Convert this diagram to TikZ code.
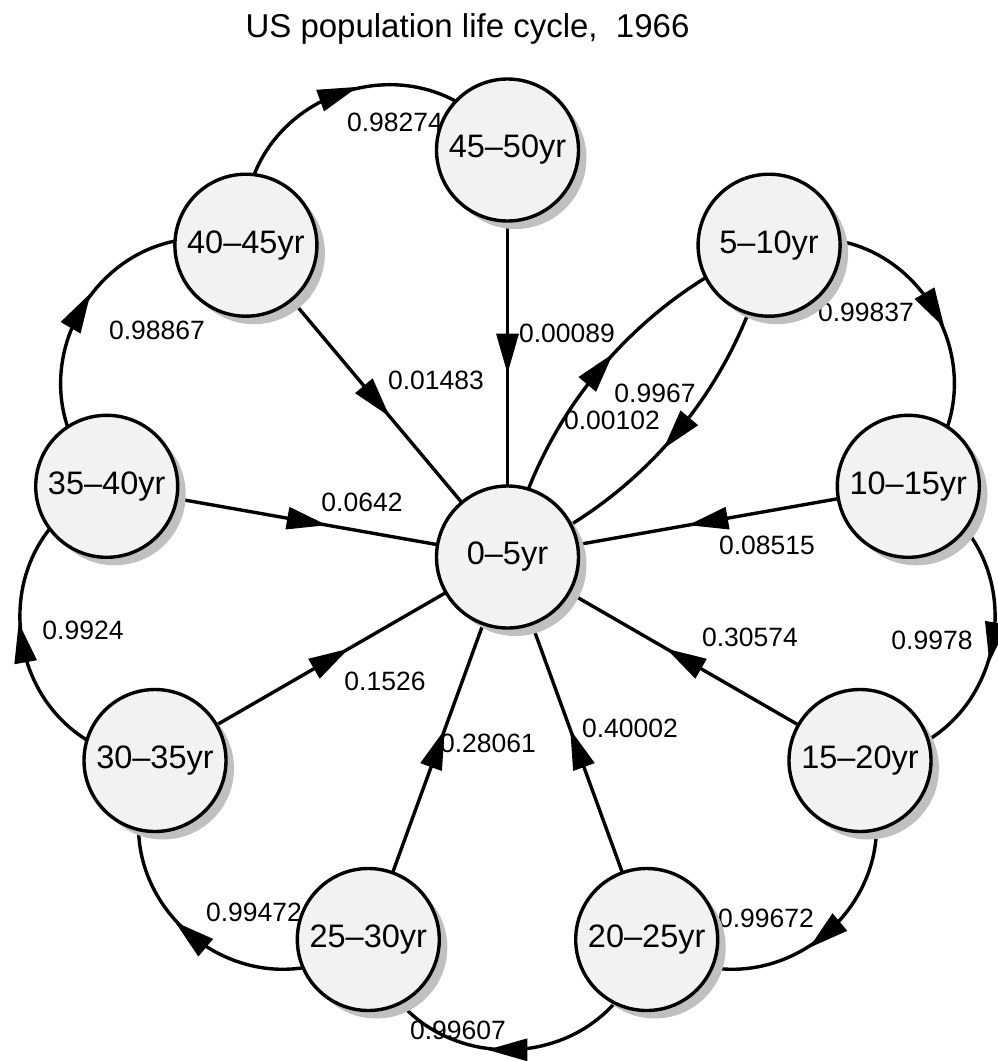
\documentclass[tikz,border=0pt]{standalone}
\usepackage{fontspec}
\setmainfont{Liberation Sans}
\usetikzlibrary{shadows,decorations.markings}
\pgfdeclarelayer{background}
\pgfsetlayers{background,main}
\definecolor{shadowgray}{RGB}{192,192,192}
\definecolor{nodefill}{RGB}{242,242,242}
\tikzset{
  agenode/.style={circle, draw=black, line width=3.4pt, fill=nodefill,
    minimum size=142pt, inner sep=0pt, font=\fontsize{32.5}{39}\selectfont,
    drop shadow={shadow xshift=8pt, shadow yshift=-8pt, fill=shadowgray, opacity=1}},
  flow/.style={line width=3.4pt, postaction={decorate},
    decoration={markings, mark=at position 0.5 with
      {\fill (-20pt,-11.5pt) -- (20pt,0pt) -- (-20pt,11.5pt) -- cycle;}}},
  cyc/.style={flow, bend left=77, looseness=1.39},
  pair/.style={flow, bend left=27.6, looseness=0.9},
  lbl/.style={font=\fontsize{26.5}{32}\selectfont, inner sep=0pt},
  ttl/.style={font=\fontsize{33}{40}\selectfont, inner sep=0pt, anchor=base}
}
\begin{document}
\begin{tikzpicture}[x=1pt,y=1pt]
\useasboundingbox (0,0) rectangle (998,-1061);
\node[ttl] (title) at (467.5,-37) {US population life cycle,~ 1966};

\node[agenode] (a0)  at (507.5,-557)   {0–5yr};
\node[agenode] (a45) at (507.5,-150)   {45–50yr};
\node[agenode] (a5)  at (769.1,-245.2) {5–10yr};
\node[agenode] (a10) at (908.3,-486.3) {10–15yr};
\node[agenode] (a15) at (860,-760.5)   {15–20yr};
\node[agenode] (a20) at (646.7,-939.5) {20–25yr};
\node[agenode] (a25) at (368.3,-939.5) {25–30yr};
\node[agenode] (a30) at (155,-760.5)   {30–35yr};
\node[agenode] (a35) at (106.7,-486.3) {35–40yr};
\node[agenode] (a40) at (245.9,-245.2) {40–45yr};

\begin{pgfonlayer}{background}
% spokes
\draw[flow] (a45.center) -- (a0.center);
\draw[flow] (a40.center) -- (a0.center);
\draw[flow] (a35.center) -- (a0.center);
\draw[flow] (a30.center) -- (a0.center);
\draw[flow] (a25.center) -- (a0.center);
\draw[flow] (a20.center) -- (a0.center);
\draw[flow] (a15.center) -- (a0.center);
\draw[flow] (a10.center) -- (a0.center);
\draw[pair] (a0.center) to (a5.center);
\draw[pair] (a5.center) to (a0.center);
% cycle
\draw[cyc] (a5.center) to (a10.center);
\draw[cyc] (a10.center) to (a15.center);
\draw[cyc] (a15.center) to (a20.center);
\draw[cyc] (a20.center) to (a25.center);
\draw[cyc] (a25.center) to (a30.center);
\draw[cyc] (a30.center) to (a35.center);
\draw[cyc] (a35.center) to (a40.center);
\draw[cyc] (a40.center) to (a45.center);
% labels
\node[lbl] (l1)  at (395,-122)  {0.98274};
\node[lbl] (l2)  at (567,-333)  {0.00089};
\node[lbl] (l3)  at (436,-380)  {0.01483};
\node[lbl] (l4)  at (157,-330)  {0.98867};
\node[lbl] (l5)  at (866,-312)  {0.99837};
\node[lbl] (l6)  at (655,-393)  {0.9967};
\node[lbl] (l7)  at (612,-420)  {0.00102};
\node[lbl] (l8)  at (362,-502)  {0.0642};
\node[lbl] (l9)  at (767,-545)  {0.08515};
\node[lbl] (l10) at (83,-630)   {0.9924};
\node[lbl] (l11) at (932,-640)  {0.9978};
\node[lbl] (l12) at (750,-637)  {0.30574};
\node[lbl] (l13) at (385,-681)  {0.1526};
\node[lbl] (l14) at (630,-728)  {0.40002};
\node[lbl] (l15) at (488,-743)  {0.28061};
\node[lbl] (l16) at (254,-912)  {0.99472};
\node[lbl] (l17) at (766,-918)  {0.99672};
\node[lbl] (l18) at (458,-1030) {0.99607};
\end{pgfonlayer}
\end{tikzpicture}
\end{document}
